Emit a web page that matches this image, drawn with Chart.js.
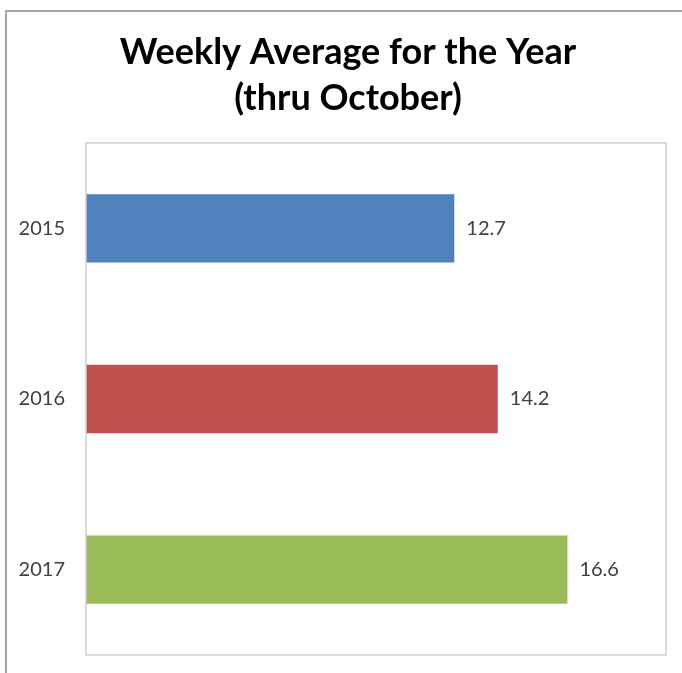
<!DOCTYPE html>
<html>
<head>
<meta charset="utf-8">
<script src="https://cdn.jsdelivr.net/npm/chart.js@4"></script>
<style>
  html, body { margin: 0; padding: 0; background: #ffffff; overflow: hidden; }
  #wrap { position: relative; width: 682px; height: 673px; }
</style>
</head>
<body>
<div id="wrap"><canvas id="c" width="682" height="673"></canvas></div>
<script>
const titleLines = ['Weekly Average for the Year', '(thru October)'];
const categories = ['2015', '2016', '2017'];
const values = [12.7, 14.2, 16.6];
const barColors = ['#4F81BD', '#C0504D', '#9BBB59'];
const xMin = 0;
const xMax = 20;

const frame = {
  id: 'frame',
  afterLayout(chart) {
    // let the category labels use the space left of the axis box
    const y = chart.scales.y;
    y.left = 0;
    y.width = y.right;
  },
  beforeDraw(chart) {
    const ctx = chart.ctx;
    ctx.save();
    ctx.fillStyle = '#ffffff';
    ctx.fillRect(0, 0, chart.width, chart.height);
    ctx.strokeStyle = '#a6a6a6';
    ctx.lineWidth = 2;
    ctx.strokeRect(6, 11, chart.width + 20, chart.height + 20);
    ctx.restore();
  },
  afterDraw(chart) {
    const a = chart.chartArea;
    const ctx = chart.ctx;
    ctx.save();
    ctx.strokeStyle = '#d0d0d0';
    ctx.lineWidth = 1.5;
    ctx.strokeRect(a.left, a.top, a.right - a.left, a.bottom - a.top);
    ctx.restore();
  }
};

const valueLabels = {
  id: 'valueLabels',
  afterDatasetsDraw(chart) {
    const ctx = chart.ctx;
    ctx.save();
    ctx.font = '20px Lato';
    ctx.fillStyle = '#404040';
    ctx.textAlign = 'left';
    ctx.textBaseline = 'middle';
    chart.data.datasets.forEach((ds, di) => {
      chart.getDatasetMeta(di).data.forEach((el, i) => {
        ctx.fillText(String(ds.data[i]), el.x + 12, el.y);
      });
    });
    ctx.restore();
  }
};

new Chart(document.getElementById('c'), {
  type: 'bar',
  data: {
    labels: categories,
    datasets: [{
      data: values,
      backgroundColor: barColors,
      borderWidth: 0,
      barPercentage: 0.4,
      categoryPercentage: 1.0
    }]
  },
  options: {
    indexAxis: 'y',
    responsive: false,
    animation: false,
    layout: { padding: { left: 30, right: 16, top: 0, bottom: 18 } },
    plugins: {
      legend: { display: false },
      tooltip: { enabled: false },
      title: {
        display: true,
        text: titleLines,
        color: '#000000',
        font: { family: 'Lato', size: 36, weight: 'bold', lineHeight: 46 / 36 },
        padding: { top: 29, bottom: 22 }
      }
    },
    scales: {
      x: {
        display: false,
        min: xMin,
        max: xMax
      },
      y: {
        grid: { display: false, drawTicks: false },
        border: { display: false },
        ticks: {
          color: '#404040',
          font: { family: 'Lato', size: 20 },
          padding: 21
        },
        afterFit(scale) {
          scale.width = 56;
          scale.paddingTop = 0;
          scale.paddingBottom = 0;
        }
      }
    }
  },
  plugins: [frame, valueLabels]
});
</script>
</body>
</html>
